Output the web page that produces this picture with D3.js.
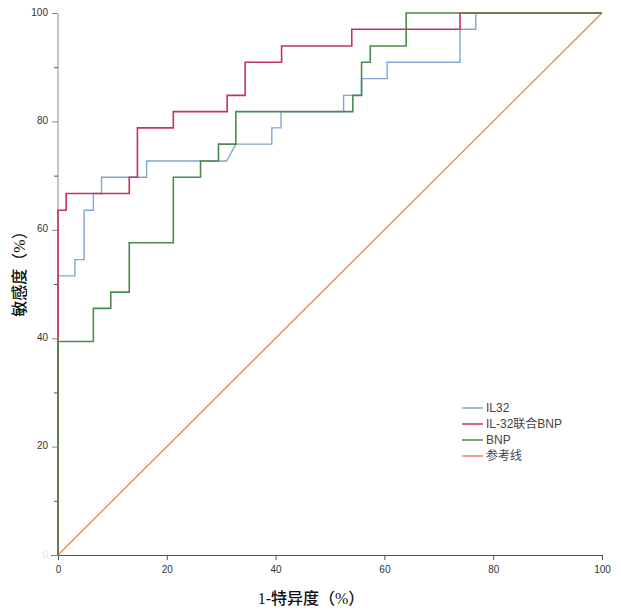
<!DOCTYPE html>
<html>
<head>
<meta charset="utf-8">
<script src="https://cdn.jsdelivr.net/npm/d3@7/dist/d3.min.js"></script>
<style>
  html, body { margin: 0; padding: 0; background: #fff; }
  svg { display: block; }
</style>
</head>
<body>
<svg id="chart" width="621" height="611"></svg>
<script>
// ---- Data ----
const seriesNames = ["IL32", "IL-32联合BNP", "BNP", "参考线"];

const il32Fpr = [0, 0, 3.1, 3.1, 4.8, 4.8, 6.5, 6.5, 8.0, 8.0, 16.3, 16.3, 31.0, 32.7, 39.3, 39.3, 41.0, 41.0, 52.5, 52.5, 55.8, 55.8, 60.5, 60.5, 73.9, 73.9, 76.8, 76.8, 100];
const il32Tpr = [0, 51.5, 51.5, 54.5, 54.5, 63.6, 63.6, 66.7, 66.7, 69.7, 69.7, 72.7, 72.7, 75.8, 75.8, 78.8, 78.8, 81.8, 81.8, 84.8, 84.8, 87.9, 87.9, 90.9, 90.9, 97.0, 97.0, 100, 100];

const combFpr = [0, 0, 1.5, 1.5, 13.1, 13.1, 14.6, 14.6, 21.2, 21.2, 31.1, 31.1, 34.4, 34.4, 41.1, 41.1, 54.0, 54.0, 73.9, 73.9, 100];
const combTpr = [0, 63.6, 63.6, 66.7, 66.7, 69.7, 69.7, 78.8, 78.8, 81.8, 81.8, 84.8, 84.8, 90.9, 90.9, 93.9, 93.9, 97.0, 97.0, 100, 100];

const bnpFpr = [0, 0, 6.5, 6.5, 9.7, 9.7, 13.1, 13.1, 21.2, 21.2, 26.2, 26.2, 29.5, 29.5, 32.7, 32.7, 54.2, 54.2, 55.8, 55.8, 57.4, 57.4, 64.0, 64.0, 100];
const bnpTpr = [0, 39.4, 39.4, 45.5, 45.5, 48.5, 48.5, 57.6, 57.6, 69.7, 69.7, 72.7, 72.7, 75.8, 75.8, 81.8, 81.8, 84.8, 84.8, 90.9, 90.9, 93.9, 93.9, 100, 100];

const refFpr = [0, 100];
const refTpr = [0, 100];

const xTicks = [0, 20, 40, 60, 80, 100];
const yTicksMajor = [0, 20, 40, 60, 80, 100];
const yTicksMinor = [10, 30, 50, 70, 90];

const xLabel = "1-特异度（%）";
const yLabel = "敏感度（%）";

// ---- Layout ----
const svg = d3.select("#chart");
const mLeft = 58, mRight = 602, mTop = 13, mBottom = 555;

const x = d3.scaleLinear().domain([0, 100]).range([mLeft, mRight]);
const y = d3.scaleLinear().domain([0, 100]).range([mBottom, mTop]);

const axisColor = "#8a8a8a";
const tickFont = "Liberation Sans, Arial, sans-serif";

// X axis
const xAxis = svg.append("g")
  .attr("transform", `translate(0,${mBottom})`)
  .call(d3.axisBottom(x).tickValues(xTicks).tickSize(5).tickPadding(6).tickFormat(d3.format("d")));
xAxis.select(".domain").attr("stroke", "#555").attr("d", `M${mLeft - 7},0.5H${mRight}`);
xAxis.selectAll(".tick line").attr("stroke", "#555");
xAxis.selectAll(".tick text").attr("font-family", tickFont).attr("font-size", 10).attr("fill", "#333");

// Y axis (major)
const yAxis = svg.append("g")
  .attr("transform", `translate(${mLeft},0)`)
  .call(d3.axisLeft(y).tickValues(yTicksMajor).tickSize(6).tickPadding(4).tickFormat(d3.format("d")));
yAxis.select(".domain").attr("stroke", axisColor).attr("d", `M-6,${mTop}.5H0V${mBottom}`);
yAxis.selectAll(".tick line").attr("stroke", axisColor);
yAxis.selectAll(".tick text").attr("font-family", tickFont).attr("font-size", 10).attr("fill", "#333")
  .attr("dy", "0.2em");
yAxis.selectAll(".tick").filter(d => d === 0).select("text").attr("fill", "#e4e4e4");

// Y axis (minor)
const yMinor = svg.append("g")
  .attr("transform", `translate(${mLeft},0)`)
  .call(d3.axisLeft(y).tickValues(yTicksMinor).tickSize(4).tickFormat(""));
yMinor.select(".domain").remove();
yMinor.selectAll(".tick line").attr("stroke", "#555");

// ---- Lines ----
const line = d3.line().x(d => x(d[0])).y(d => y(d[1]));
const zipPts = (a, b) => a.map((v, i) => [v, b[i]]);

const series = [
  { name: seriesNames[3], pts: zipPts(refFpr, refTpr), color: "#f0805e", width: 1.3 },
  { name: seriesNames[0], pts: zipPts(il32Fpr, il32Tpr), color: "#7fa6d6", width: 1.4 },
  { name: seriesNames[1], pts: zipPts(combFpr, combTpr), color: "#c8305e", width: 1.6 },
  { name: seriesNames[2], pts: zipPts(bnpFpr, bnpTpr), color: "#4a8a4c", width: 1.6 }
];

svg.append("g").selectAll("path")
  .data(series)
  .join("path")
  .attr("d", d => line(d.pts))
  .attr("fill", "none")
  .attr("stroke", d => d.color)
  .attr("stroke-width", d => d.width);

// ---- Legend ----
const legendOrder = [1, 2, 3, 0].map(i => series[i]);
const lg = svg.append("g").attr("transform", "translate(462,408)");
const rows = lg.selectAll("g").data(legendOrder).join("g")
  .attr("transform", (d, i) => `translate(0,${i * 16})`);
rows.append("line").attr("x1", 0).attr("x2", 21).attr("y1", 0).attr("y2", 0)
  .attr("stroke", d => d.color).attr("stroke-width", 1.5);
rows.append("text").attr("x", 24).attr("y", 0).attr("dy", "0.35em")
  .attr("font-family", "Liberation Sans, Arial, 'Noto Sans CJK SC', sans-serif")
  .attr("font-size", 12).attr("fill", "#444")
  .text(d => d.name);

// ---- Axis titles ----
svg.append("text")
  .attr("x", 311).attr("y", 604)
  .attr("text-anchor", "middle")
  .attr("font-family", "Liberation Serif, 'Noto Sans CJK SC', serif")
  .attr("font-size", 16).attr("font-weight", 500).attr("fill", "#111")
  .text(xLabel);

svg.append("text")
  .attr("transform", "translate(25,270) rotate(-90)")
  .attr("text-anchor", "middle")
  .attr("font-family", "Liberation Serif, 'Noto Sans CJK SC', serif")
  .attr("font-size", 16).attr("font-weight", 500).attr("fill", "#111")
  .text(yLabel);
</script>
</body>
</html>
